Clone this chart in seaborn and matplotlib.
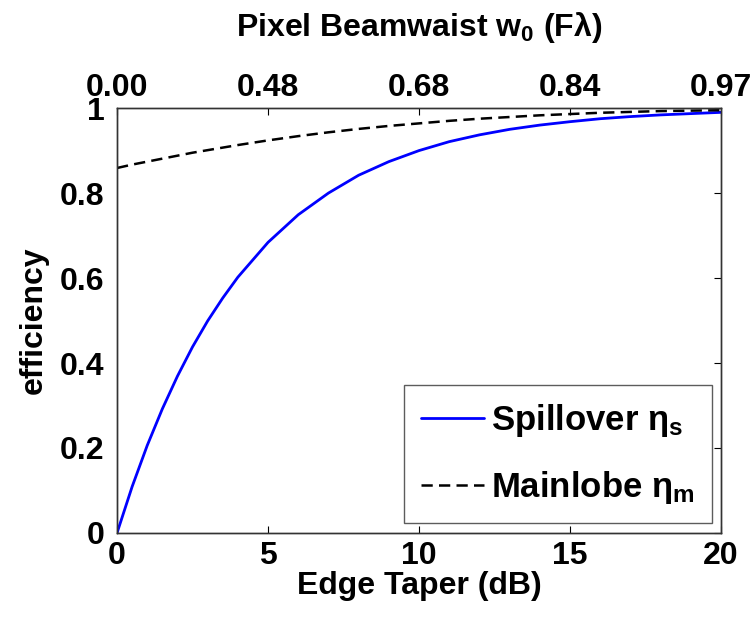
import matplotlib
matplotlib.use("Agg")
import matplotlib.pyplot as plt
import seaborn as sns
import pandas as pd

# Data
taper_db = [0, 0.5, 1, 1.5, 2, 2.5, 3, 3.5, 4, 5, 6, 7, 8, 9, 10, 11, 12, 13, 14, 15, 16, 17, 18, 19, 20]
spillover = [0.0, 0.109, 0.206, 0.292, 0.369, 0.438, 0.499, 0.553, 0.602, 0.684, 0.749, 0.800,
             0.842, 0.874, 0.900, 0.921, 0.937, 0.950, 0.960, 0.968, 0.975, 0.980, 0.984, 0.987, 0.990]
mainlobe = [0.859, 0.867, 0.874, 0.881, 0.888, 0.895, 0.901, 0.907, 0.913, 0.924, 0.934, 0.943,
            0.951, 0.958, 0.964, 0.970, 0.975, 0.979, 0.983, 0.986, 0.989, 0.991, 0.993, 0.994, 0.995]
bottom_ticks = [0, 5, 10, 15, 20]
top_tick_labels = ["0.00", "0.48", "0.68", "0.84", "0.97"]
y_ticks = [0, 0.2, 0.4, 0.6, 0.8, 1]
y_tick_labels = ["0", "0.2", "0.4", "0.6", "0.8", "1"]

sns.set_style("white")
plt.rcParams["font.family"] = ["Liberation Sans", "DejaVu Sans"]
plt.rcParams["font.weight"] = "bold"
plt.rcParams["mathtext.fontset"] = "custom"
plt.rcParams["mathtext.rm"] = "Liberation Sans:bold"
plt.rcParams["mathtext.it"] = "Liberation Sans:bold"
plt.rcParams["mathtext.bf"] = "Liberation Sans:bold"
for k in ["text.color", "axes.labelcolor", "xtick.color", "ytick.color"]:
    plt.rcParams[k] = "black"

df = pd.DataFrame({"taper": taper_db, "spill": spillover, "main": mainlobe})

fig = plt.figure(figsize=(7.56, 6.23), dpi=100)
ax = fig.add_axes([0.1548, 0.1445, 0.799, 0.682])

sns.lineplot(data=df, x="taper", y="spill", ax=ax, color="#0000ff", lw=2.0,
             label="Spillover η$_{s}$")
sns.lineplot(data=df, x="taper", y="main", ax=ax, color="black", lw=1.8,
             linestyle=(0, (4.5, 2.5)), label="Mainlobe η$_{m}$")

fs = 23
ax.set_xlim(0, 20)
ax.set_ylim(0, 1)
ax.set_xticks(bottom_ticks)
ax.set_xticklabels([str(t) for t in bottom_ticks], fontsize=fs, fontweight="bold")
ax.set_yticks(y_ticks)
ax.set_yticklabels(y_tick_labels, fontsize=fs, fontweight="bold")
ax.set_xlabel("Edge Taper (dB)", fontsize=fs, fontweight="bold", labelpad=0)
ax.set_ylabel("efficiency", fontsize=fs, fontweight="bold", labelpad=8)
ax.tick_params(axis="x", direction="in", length=5, width=0.8, top=False, pad=6)
ax.tick_params(axis="y", direction="in", length=5, width=0.8, right=True, pad=9)

ax2 = ax.twiny()
ax2.set_xlim(ax.get_xlim())
ax2.set_xticks(bottom_ticks)
ax2.set_xticklabels(top_tick_labels, fontsize=fs, fontweight="bold")
ax2.tick_params(direction="in", length=5, width=0.8, pad=4)
ax2.set_xlabel("Pixel Beamwaist w$_{0}$ (Fλ)", fontsize=fs, fontweight="bold", labelpad=26)

for a in (ax, ax2):
    for s in a.spines.values():
        s.set_color("#333333")
        s.set_linewidth(1.0)

leg = ax.legend(loc="lower right", bbox_to_anchor=(0.985, 0.023), fontsize=25,
                frameon=True, fancybox=False, handlelength=1.8, handletextpad=0.2,
                borderpad=0.5, labelspacing=0.85, borderaxespad=0)
leg.get_frame().set_edgecolor("#333333")
leg.get_frame().set_linewidth(1.0)
for t in leg.get_texts():
    t.set_fontweight("bold")

fig.savefig("out.png", dpi=100)
